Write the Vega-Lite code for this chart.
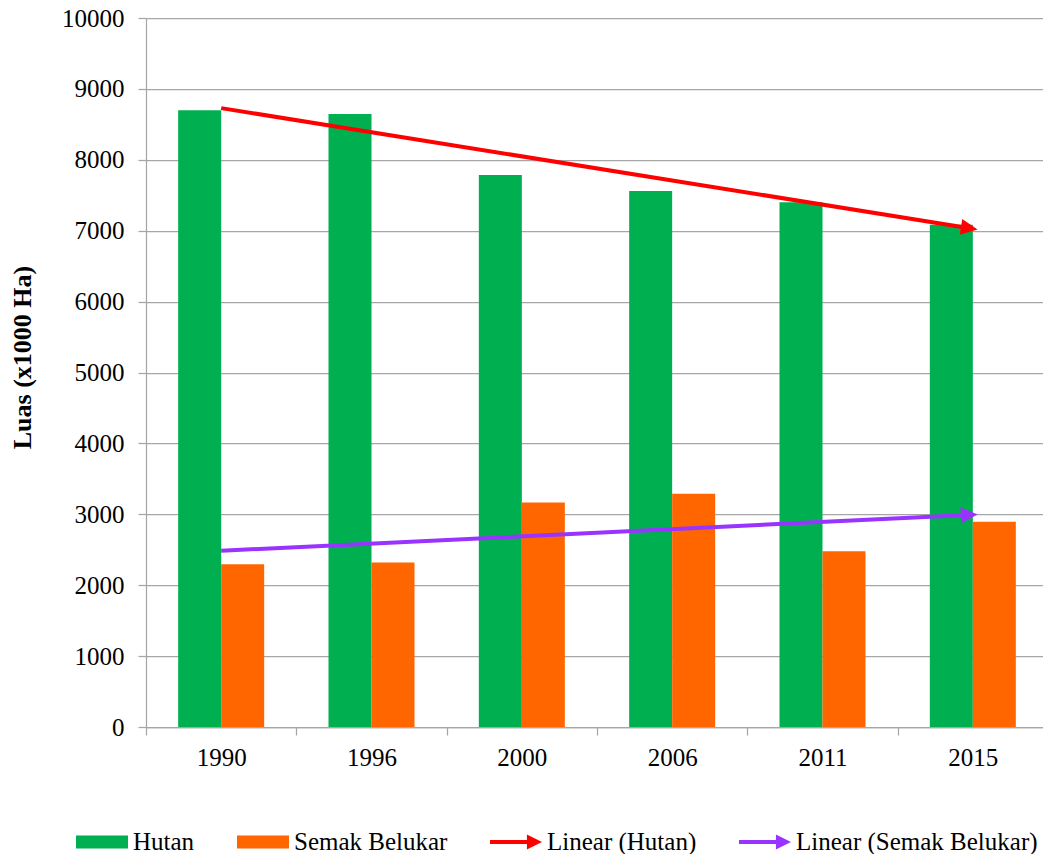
{
  "$schema": "https://vega.github.io/schema/vega-lite/v6.json",
  "autosize": "none",
  "width": 897,
  "height": 709,
  "padding": {"left": 146, "top": 18, "right": 0, "bottom": 127},
  "background": "white",
  "config": {"font": "Liberation Serif", "view": {"stroke": null}},
  "datasets": {
    "bars": [
      {"year": "1990", "series": "Hutan", "value": 8700},
      {"year": "1990", "series": "Semak Belukar", "value": 2295},
      {"year": "1996", "series": "Hutan", "value": 8645},
      {"year": "1996", "series": "Semak Belukar", "value": 2320},
      {"year": "2000", "series": "Hutan", "value": 7785},
      {"year": "2000", "series": "Semak Belukar", "value": 3165},
      {"year": "2006", "series": "Hutan", "value": 7560},
      {"year": "2006", "series": "Semak Belukar", "value": 3290},
      {"year": "2011", "series": "Hutan", "value": 7400},
      {"year": "2011", "series": "Semak Belukar", "value": 2480},
      {"year": "2015", "series": "Hutan", "value": 7085},
      {"year": "2015", "series": "Semak Belukar", "value": 2895}
    ],
    "trend": [
      {"year": "1990", "series": "Linear (Hutan)", "value": 8729},
      {"year": "2015", "series": "Linear (Hutan)", "value": 7028},
      {"year": "1990", "series": "Linear (Semak Belukar)", "value": 2486},
      {"year": "2015", "series": "Linear (Semak Belukar)", "value": 2994}
    ]
  },
  "layer": [
    {
      "data": {"name": "bars"},
      "mark": {"type": "bar"},
      "encoding": {
        "x": {
          "field": "year", "type": "nominal",
          "scale": {"range": [0, 902], "paddingInner": 0, "paddingOuter": 0},
          "axis": {
            "title": null, "labelAngle": 0, "labelFontSize": 25, "labelColor": "black",
            "labelFont": "Liberation Serif", "tickBand": "extent", "tickSize": 8,
            "tickColor": "#a6a6a6", "tickWidth": 1.25, "domainColor": "#a6a6a6", "domainWidth": 1.25,
            "labelPadding": 10, "grid": false
          }
        },
        "xOffset": {
          "field": "series", "type": "nominal",
          "scale": {"domain": ["Hutan", "Semak Belukar"], "paddingInner": 0, "paddingOuter": 0.748}
        },
        "y": {
          "field": "value", "type": "quantitative",
          "scale": {"domain": [0, 10000], "nice": false},
          "axis": {
            "values": [0, 1000, 2000, 3000, 4000, 5000, 6000, 7000, 8000, 9000, 10000],
            "format": "d", "labelFontSize": 25, "labelColor": "black", "labelFont": "Liberation Serif",
            "tickSize": 8, "tickColor": "#a6a6a6", "tickWidth": 1.25,
            "domainColor": "#a6a6a6", "domainWidth": 1.25,
            "grid": true, "gridColor": "#a6a6a6", "gridWidth": 1.25,
            "labelPadding": 14,
            "title": "Luas (x1000 Ha)", "titleFontSize": 26, "titleFontWeight": "bold",
            "titleColor": "black", "titleFont": "Liberation Serif", "titlePadding": 26, "titleY": 339
          }
        },
        "color": {
          "field": "series", "type": "nominal",
          "scale": {
            "domain": ["Hutan", "Semak Belukar", "Linear (Hutan)", "Linear (Semak Belukar)"],
            "range": ["#00B050", "#FF6600", "#FF0000", "#9933FF"]
          },
          "legend": {
            "title": null, "orient": "none", "direction": "horizontal",
            "legendX": -70, "legendY": 798,
            "labelFontSize": 25, "labelColor": "black", "labelFont": "Liberation Serif",
            "labelOffset": 5, "columnPadding": 42, "symbolSize": 2704,
            "symbolStrokeWidth": 0, "symbolOpacity": 1, "labelLimit": 400,
            "encode": {
              "symbols": {
                "update": {
                  "shape": {"signal": "(datum.value == 'Hutan' || datum.value == 'Semak Belukar') ? 'M-1,-0.25H1V0.25H-1Z' : 'M-1,-0.077H0.42V-0.29L1,0L0.42,0.29V0.077H-1Z'"},
                  "fill": {"signal": "scale('color', datum.value)"},
                  "strokeWidth": {"value": 0},
                  "opacity": {"value": 1}
                }
              }
            }
          }
        }
      }
    },
    {
      "data": {"name": "trend"},
      "mark": {"type": "line", "strokeWidth": 4},
      "encoding": {
        "x": {"field": "year", "type": "nominal"},
        "y": {"field": "value", "type": "quantitative"},
        "color": {"field": "series", "type": "nominal", "legend": null}
      }
    },
    {
      "data": {"name": "trend"},
      "transform": [{"filter": "datum.year == '2015' && datum.series == 'Linear (Hutan)'"}],
      "mark": {"type": "point", "filled": true, "opacity": 1, "size": 1024, "angle": 9.1, "shape": "M0.3,0L-0.75,-0.5L-0.75,0.5Z"},
      "encoding": {
        "x": {"field": "year", "type": "nominal"},
        "y": {"field": "value", "type": "quantitative"},
        "color": {"field": "series", "type": "nominal", "legend": null}
      }
    },
    {
      "data": {"name": "trend"},
      "transform": [{"filter": "datum.year == '2015' && datum.series == 'Linear (Semak Belukar)'"}],
      "mark": {"type": "point", "filled": true, "opacity": 1, "size": 1024, "angle": -2.74, "shape": "M0.3,0L-0.75,-0.5L-0.75,0.5Z"},
      "encoding": {
        "x": {"field": "year", "type": "nominal"},
        "y": {"field": "value", "type": "quantitative"},
        "color": {"field": "series", "type": "nominal", "legend": null}
      }
    }
  ]
}
